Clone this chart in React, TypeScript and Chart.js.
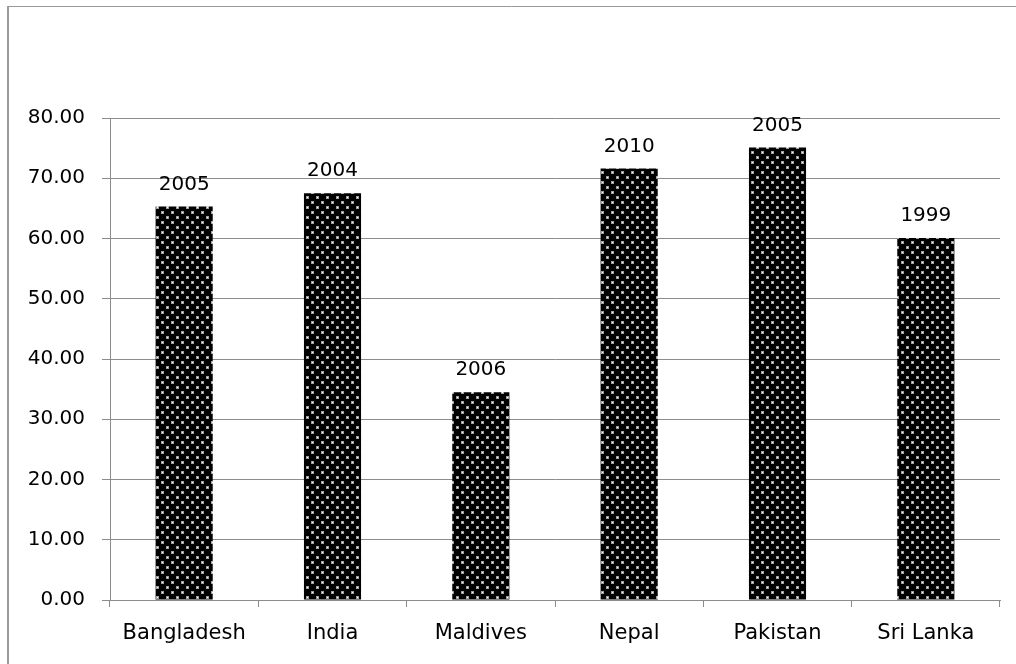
import React, { useEffect, useRef } from "react";
import { Chart, registerables } from "chart.js";

Chart.register(...registerables);

const countries = ["Bangladesh", "India", "Maldives", "Nepal", "Pakistan", "Sri Lanka"];
const values = [65.3, 67.5, 34.5, 71.6, 75.1, 60.1];
const surveyYears = ["2005", "2004", "2006", "2010", "2005", "1999"];

const FONT = "'DejaVu Sans', sans-serif";
const GRID = "#8c8c8c";

// Black fill sprinkled with staggered light dots
function makeDotPattern(): CanvasPattern | string {
  const tile = document.createElement("canvas");
  tile.width = 10;
  tile.height = 10;
  const t = tile.getContext("2d");
  if (!t) return "#000";
  t.fillStyle = "#000";
  t.fillRect(0, 0, 10, 10);
  t.fillStyle = "#a0a0a0";
  t.fillRect(1, 1, 3, 3);
  t.fillRect(6, 6, 3, 3);
  t.fillStyle = "#ffffff";
  t.fillRect(2, 2, 1, 1);
  t.fillRect(7, 7, 1, 1);
  const p = t.createPattern(tile, "repeat");
  return p || "#000";
}

// Outer frame (left and top edges) and year labels above each bar
const framePlugin = {
  id: "frameAndYears",
  afterDatasetsDraw(chart: any) {
    const ctx = chart.ctx;
    const meta = chart.getDatasetMeta(0);
    ctx.save();
    ctx.font = `20px ${FONT}`;
    ctx.fillStyle = "#000";
    ctx.textAlign = "center";
    ctx.textBaseline = "alphabetic";
    meta.data.forEach((bar: any, i: number) => {
      ctx.fillText(surveyYears[i], bar.x, bar.y - 17);
    });
    ctx.restore();
  },
  afterDraw(chart: any) {
    const ctx = chart.ctx;
    ctx.save();
    ctx.strokeStyle = "#9a9a9a";
    ctx.lineWidth = 2;
    ctx.beginPath();
    ctx.moveTo(8, chart.height);
    ctx.lineTo(8, 6.5);
    ctx.stroke();
    ctx.lineWidth = 1;
    ctx.beginPath();
    ctx.moveTo(7, 6.5);
    ctx.lineTo(chart.width, 6.5);
    ctx.stroke();
    ctx.restore();
  },
};

export default function App() {
  const ref = useRef<HTMLCanvasElement>(null);

  useEffect(() => {
    if (!ref.current) return;
    const chart = new Chart(ref.current, {
      type: "bar",
      data: {
        labels: countries,
        datasets: [
          {
            data: values,
            backgroundColor: makeDotPattern() as any,
            borderWidth: 0,
            barPercentage: 0.385,
            categoryPercentage: 1,
          },
        ],
      },
      options: {
        animation: false,
        responsive: false,
        devicePixelRatio: 1,
        layout: { padding: { top: 118, right: 16, left: 0, bottom: 0 } },
        plugins: {
          legend: { display: false },
          tooltip: { enabled: false },
        },
        scales: {
          x: {
            grid: {
              display: true,
              drawOnChartArea: false,
              tickLength: 7,
              color: GRID,
              offset: true,
            },
            border: { display: true, color: GRID },
            ticks: {
              color: "#000",
              font: { family: FONT, size: 21 },
              padding: 14,
              maxRotation: 0,
            },
            afterFit: (s: any) => {
              s.height = 64;
            },
          },
          y: {
            min: 0,
            max: 80,
            ticks: {
              stepSize: 10,
              color: "#000",
              font: { family: FONT, size: 20 },
              padding: 17,
              callback: (v: any) => Number(v).toFixed(2),
            },
            grid: { color: GRID, tickLength: 8, tickColor: GRID },
            border: { display: true, color: GRID },
            afterFit: (s: any) => {
              s.width = 110;
            },
          },
        },
      },
      plugins: [framePlugin],
    });
    return () => chart.destroy();
  }, []);

  return (
    <div style={{ position: "fixed", left: 0, top: 0, width: 1016, height: 664, background: "#fff" }}>
      <canvas ref={ref} width={1016} height={664} style={{ display: "block" }} />
    </div>
  );
}
